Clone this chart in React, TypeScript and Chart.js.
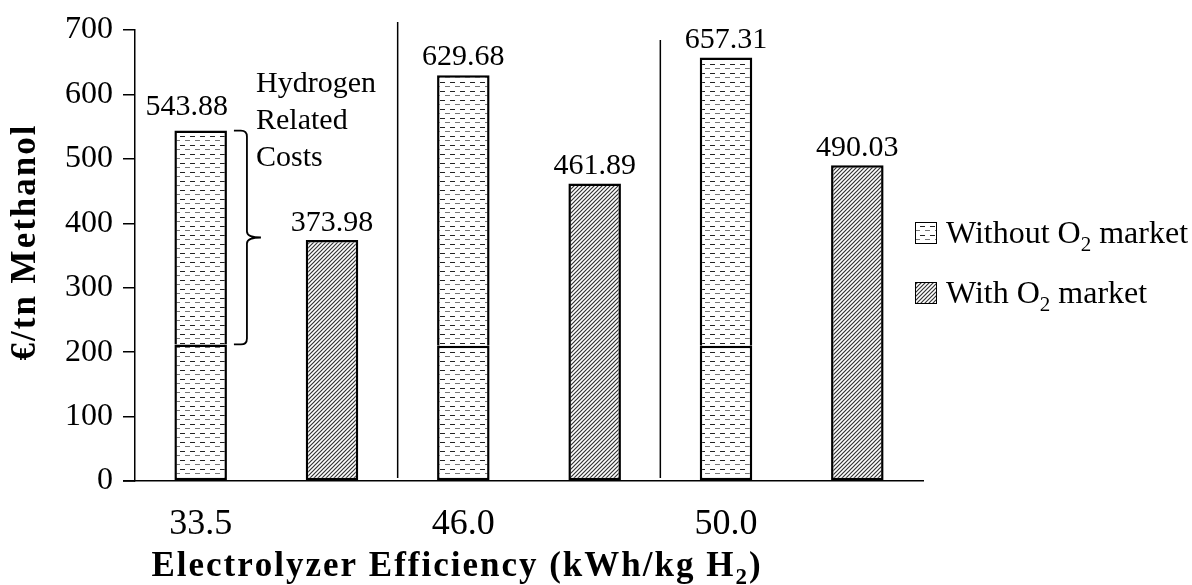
import React, { useEffect, useRef } from "react";
import { Chart, registerables } from "chart.js";

Chart.register(...registerables);

// ---- data ----
const efficiencies = ["33.5", "46.0", "50.0"];
const withoutO2Totals = [543.88, 629.68, 657.31];
const nonHydrogenCosts = [212, 210, 210];
const withO2Totals = [373.98, 461.89, 490.03];
const yTickValues = [0, 100, 200, 300, 400, 500, 600, 700];
const annotationLines = ["Hydrogen", "Related", "Costs"];
const yTitle = "€/tn Methanol";

const FONT = "'Liberation Serif', 'Times New Roman', Times, serif";

// 6 category slots: [without, with] for each efficiency
const slotLabels: string[] = [];
const lowerData: (number | null)[] = [];
const upperData: (number | null)[] = [];
const withData: (number | null)[] = [];
efficiencies.forEach((e, i) => {
  slotLabels.push(e, "");
  lowerData.push(nonHydrogenCosts[i], null);
  upperData.push(withoutO2Totals[i] - nonHydrogenCosts[i], null);
  withData.push(null, withO2Totals[i]);
});

function makeDotPattern(ctx: CanvasRenderingContext2D) {
  const c = document.createElement("canvas");
  c.width = 10;
  c.height = 9;
  const g = c.getContext("2d")!;
  g.fillStyle = "#ffffff";
  g.fillRect(0, 0, 10, 9);
  g.fillStyle = "#222222";
  g.fillRect(0, 1, 5, 1);
  g.fillStyle = "#777777";
  g.fillRect(5, 5, 5, 1);
  return ctx.createPattern(c, "repeat")!;
}

function makeHatchPattern(ctx: CanvasRenderingContext2D) {
  const c = document.createElement("canvas");
  c.width = 4;
  c.height = 4;
  const g = c.getContext("2d")!;
  g.fillStyle = "#ffffff";
  g.fillRect(0, 0, 4, 4);
  g.strokeStyle = "#333333";
  g.lineWidth = 1.2;
  g.beginPath();
  g.moveTo(-1, 5);
  g.lineTo(5, -1);
  g.moveTo(-3, 3);
  g.lineTo(3, -3);
  g.moveTo(1, 7);
  g.lineTo(7, 1);
  g.stroke();
  return ctx.createPattern(c, "repeat")!;
}

type Part = { t: string; sub?: boolean };

// text parts with subscripts, drawn char by char with optional extra spacing
function drawRich(
  ctx: CanvasRenderingContext2D,
  parts: Part[],
  x: number,
  y: number,
  size: number,
  bold: boolean,
  align: "left" | "center",
  spacing = 0
) {
  const w = bold ? "bold " : "";
  const subSize = Math.round(size * 0.65);
  const fontFor = (p: Part) => `${w}${p.sub ? subSize : size}px ${FONT}`;
  const chars: { ch: string; sub: boolean; font: string; w: number }[] = [];
  parts.forEach((p) => {
    ctx.font = fontFor(p);
    if (spacing === 0) {
      chars.push({ ch: p.t, sub: !!p.sub, font: fontFor(p), w: ctx.measureText(p.t).width });
    } else {
      for (const ch of p.t) chars.push({ ch, sub: !!p.sub, font: fontFor(p), w: ctx.measureText(ch).width });
    }
  });
  const total = chars.reduce((s, c) => s + c.w, 0) + spacing * (chars.length - 1);
  let cx = align === "center" ? x - total / 2 : x;
  ctx.textAlign = "left";
  ctx.textBaseline = "alphabetic";
  chars.forEach((c) => {
    ctx.font = c.font;
    ctx.fillText(c.ch, cx, c.sub ? y + size * 0.24 : y);
    cx += c.w + spacing;
  });
}

export default function App() {
  const ref = useRef<HTMLCanvasElement | null>(null);

  useEffect(() => {
    document.body.style.margin = "0";
    const canvas = ref.current!;
    const ctx = canvas.getContext("2d")!;
    const dots = makeDotPattern(ctx);
    const hatch = makeHatchPattern(ctx);

    const overlay = {
      id: "overlay",
      afterDraw(chart: any) {
        const c: CanvasRenderingContext2D = chart.ctx;
        const xs = chart.scales.x;
        const ys = chart.scales.y;
        c.save();
        c.fillStyle = "#000";
        c.strokeStyle = "#000";

        // x axis stub left of y axis
        c.lineWidth = 1.5;
        c.beginPath();
        c.moveTo(xs.left - 12, ys.bottom);
        c.lineTo(xs.left, ys.bottom);
        c.stroke();

        // group dividers
        const dividerTops = [22, 40];
        [1, 3].forEach((s, k) => {
          const dx = (xs.getPixelForValue(s) + xs.getPixelForValue(s + 1)) / 2;
          c.lineWidth = 1.5;
          c.beginPath();
          c.moveTo(dx, dividerTops[k]);
          c.lineTo(dx, ys.bottom - 3);
          c.stroke();
        });

        // value labels
        c.font = `30px ${FONT}`;
        c.textAlign = "center";
        c.textBaseline = "alphabetic";
        efficiencies.forEach((_, i) => {
          const x1 = xs.getPixelForValue(2 * i) - (i === 0 ? 14 : 0);
          const x2 = xs.getPixelForValue(2 * i + 1);
          c.fillText(withoutO2Totals[i].toFixed(2), x1, ys.getPixelForValue(withoutO2Totals[i]) - (i === 0 ? 16 : 10));
          c.fillText(withO2Totals[i].toFixed(2), x2, ys.getPixelForValue(withO2Totals[i]) - 9);
        });

        // bracket for hydrogen related costs (first group)
        const bar = chart.getDatasetMeta(1).data[0];
        const right = bar.x + bar.width / 2;
        const top = ys.getPixelForValue(withoutO2Totals[0]);
        const bot = ys.getPixelForValue(nonHydrogenCosts[0]);
        const mid = (top + bot) / 2;
        const xl = right + 7;
        const xv = right + 20;
        const xt = right + 34;
        const r = 6;
        c.lineWidth = 1.8;
        c.beginPath();
        c.moveTo(xl, top);
        c.lineTo(xv - r, top);
        c.quadraticCurveTo(xv, top, xv, top + r);
        c.lineTo(xv, mid - r);
        c.quadraticCurveTo(xv, mid, xt, mid);
        c.moveTo(xt, mid);
        c.quadraticCurveTo(xv, mid, xv, mid + r);
        c.lineTo(xv, bot - r);
        c.quadraticCurveTo(xv, bot, xv - r, bot);
        c.lineTo(xl, bot);
        c.stroke();

        // annotation text
        c.font = `30px ${FONT}`;
        c.textAlign = "left";
        const baselines = [92, 129, 166];
        annotationLines.forEach((t, k) => c.fillText(t, 256, baselines[k]));

        // legend
        const legend: { pat: CanvasPattern; parts: Part[]; cy: number }[] = [
          { pat: dots, parts: [{ t: "Without O" }, { t: "2", sub: true }, { t: " market" }], cy: 233 },
          { pat: hatch, parts: [{ t: "With O" }, { t: "2", sub: true }, { t: " market" }], cy: 293 },
        ];
        legend.forEach((L) => {
          c.fillStyle = L.pat;
          c.fillRect(915, L.cy - 11, 22, 22);
          c.lineWidth = 1;
          c.strokeStyle = "#000";
          c.strokeRect(915.5, L.cy - 10.5, 21, 21);
          c.fillStyle = "#000";
          drawRich(c, L.parts, 946, L.cy + 10, 32, false, "left");
        });

        // x title
        drawRich(
          c,
          [{ t: "Electrolyzer Efficiency (kWh/kg H" }, { t: "2", sub: true }, { t: ")" }],
          456,
          576,
          35,
          true,
          "center",
          2
        );

        // y title
        c.save();
        c.translate(35, 243);
        c.rotate(-Math.PI / 2);
        drawRich(c, [{ t: yTitle }], 0, 0, 35, true, "center", 2);
        c.restore();

        c.restore();
      },
    };

    const chart = new Chart(ctx, {
      type: "bar",
      data: {
        labels: slotLabels,
        datasets: [
          {
            label: "base",
            data: lowerData,
            backgroundColor: dots,
            borderColor: "#000",
            borderWidth: 2.5,
            borderSkipped: false,
          },
          {
            label: "Without O2 market",
            data: upperData,
            backgroundColor: dots,
            borderColor: "#000",
            borderWidth: 2.5,
            borderSkipped: "start",
          },
          {
            label: "With O2 market",
            data: withData,
            backgroundColor: hatch,
            borderColor: "#000",
            borderWidth: 2.5,
            borderSkipped: false,
          },
        ],
      },
      options: {
        responsive: false,
        animation: false,
        devicePixelRatio: 1,
        layout: { padding: { top: 30, right: 269, left: 0, bottom: 0 } },
        datasets: { bar: { barPercentage: 0.4, categoryPercentage: 1, skipNull: false } },
        plugins: { legend: { display: false }, tooltip: { enabled: false }, title: { display: false } },
        scales: {
          x: {
            stacked: true,
            grid: { display: false, drawTicks: false },
            border: { display: true, color: "#000", width: 1.5 },
            ticks: {
              color: "#000",
              font: { family: FONT, size: 36 },
              padding: 22,
              maxRotation: 0,
              autoSkip: false,
            },
            afterFit: (s: any) => {
              s.height = 104;
            },
          },
          y: {
            stacked: true,
            min: 0,
            max: 700,
            afterBuildTicks: (s: any) => {
              s.ticks = yTickValues.map((v) => ({ value: v }));
            },
            grid: { drawOnChartArea: false, drawTicks: true, tickLength: 12, color: "#000", lineWidth: 1.5 },
            border: { display: true, color: "#000", width: 1.5 },
            ticks: { color: "#000", font: { family: FONT, size: 32 }, padding: 10 },
            afterFit: (s: any) => {
              s.width = 135;
            },
          },
        },
      },
      plugins: [overlay],
    } as any);

    return () => chart.destroy();
  }, []);

  return (
    <div style={{ width: 1192, height: 585, background: "#fff" }}>
      <canvas ref={ref} width={1192} height={585} style={{ display: "block" }} />
    </div>
  );
}
